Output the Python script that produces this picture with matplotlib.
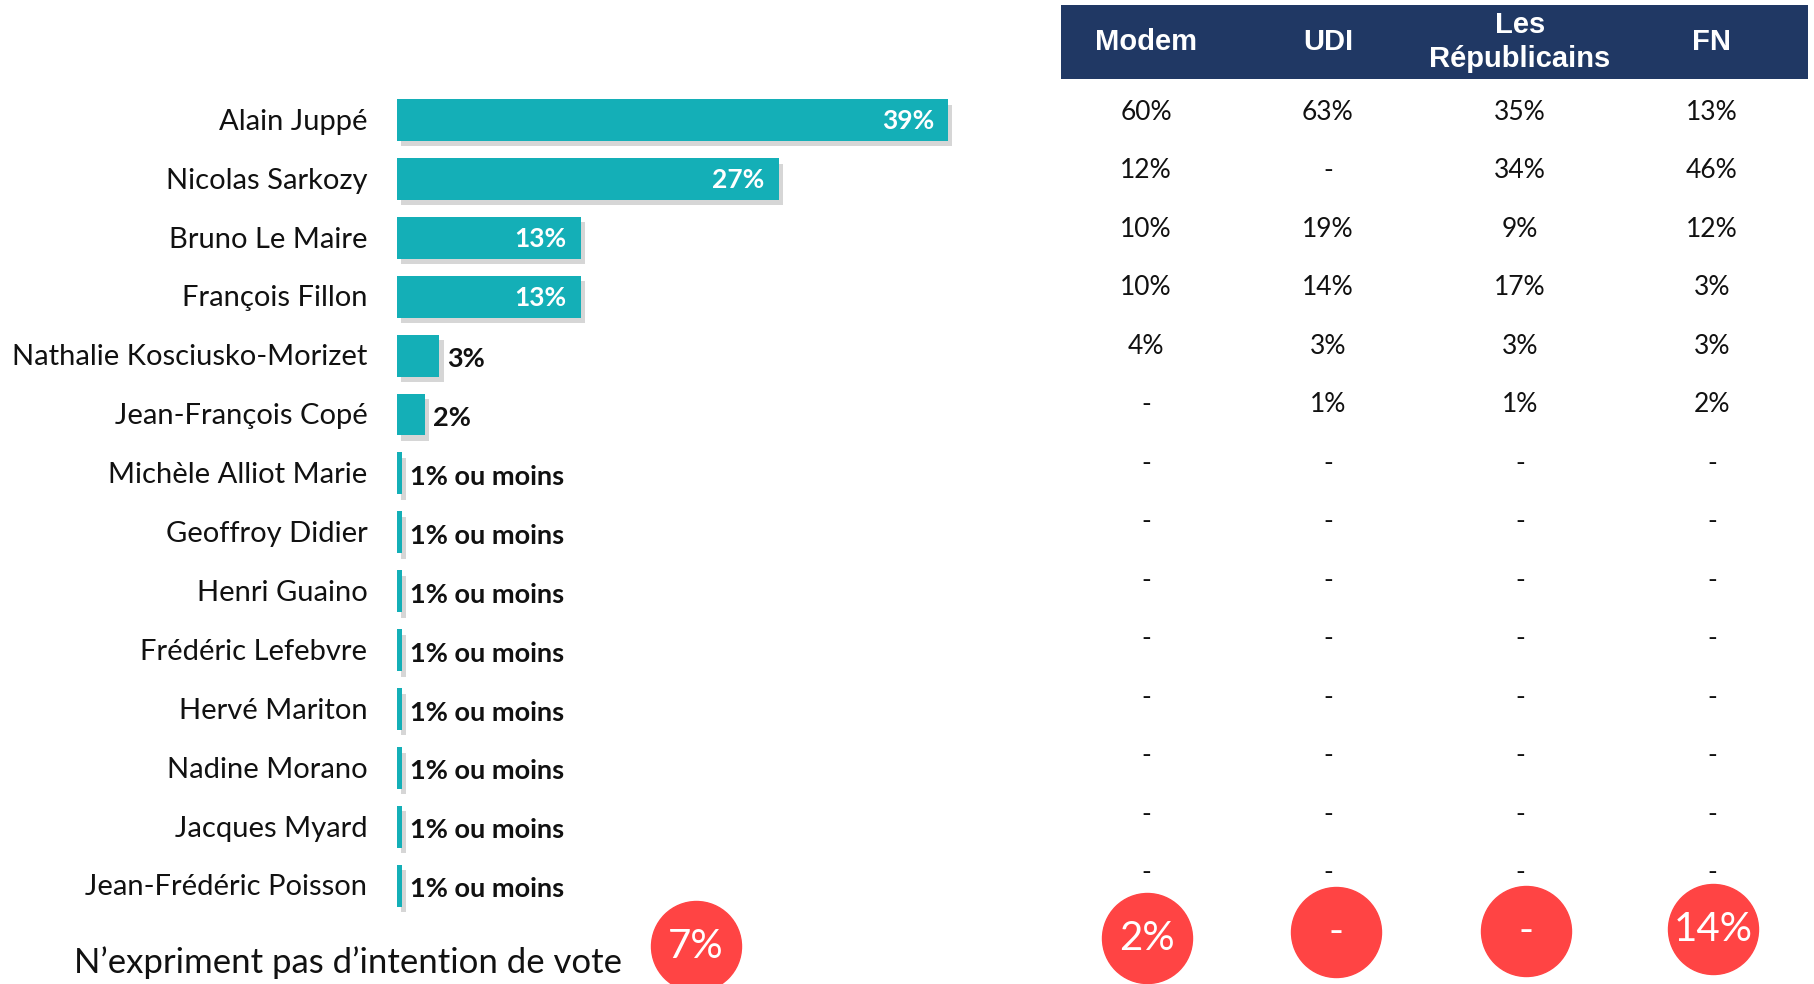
import matplotlib
matplotlib.use("Agg")
import matplotlib.pyplot as plt
import matplotlib.patheffects as pe

plt.rcParams['font.family'] = ['Lato', 'DejaVu Sans']

# candidates and overall vote intention
candidates = ["Alain Juppé", "Nicolas Sarkozy", "Bruno Le Maire", "François Fillon",
              "Nathalie Kosciusko-Morizet", "Jean-François Copé", "Michèle Alliot Marie",
              "Geoffroy Didier", "Henri Guaino", "Frédéric Lefebvre", "Hervé Mariton",
              "Nadine Morano", "Jacques Myard", "Jean-Frédéric Poisson"]
overall = [39, 27, 13, 13, 3, 2, 0.35, 0.35, 0.35, 0.35, 0.35, 0.35, 0.35, 0.35]
overall_labels = ["39%", "27%", "13%", "13%", "3%", "2%"] + ["1% ou moins"] * 8
no_vote = 7

# breakdown by party proximity (None = "-")
parties = ["Modem", "UDI", "Les\nRépublicains", "FN"]
modem = [60, 12, 10, 10, 4] + [None] * 9
udi = [63, None, 19, 14, 3, 1] + [None] * 8
lr = [35, 34, 9, 17, 3, 1] + [None] * 8
fn = [13, 46, 12, 3, 3, 2] + [None] * 8
party_no_vote = [2, None, None, 14]

TEAL = "#14AFB7"
NAVY = "#203864"
RED = "#FF4444"

W, H = 1815, 984
fig = plt.figure(figsize=(W / 100, H / 100), dpi=100)

# ---- left: bar chart ----
row0, step = 120, 58.9
top = row0 - step / 2
bot = row0 + 13 * step + step / 2
bx0, px_per = 397, 14.13
ax = fig.add_axes([bx0 / W, 1 - bot / H, 603 / W, (bot - top) / H])
ax.set_xlim(0, 603 / px_per)
ax.set_ylim(13.5, -0.5)
ax.axis("off")

ypos = list(range(len(candidates)))
bars = ax.barh(ypos, overall, height=0.71, color=TEAL)
for b in bars:
    b.set_path_effects([pe.SimplePatchShadow(offset=(3, -4), shadow_rgbFace="#999999", alpha=0.4),
                        pe.Normal()])

for y, name, v, lab in zip(ypos, candidates, overall, overall_labels):
    ax.text(-2.1, y + 0.03, name, ha="right", va="center", fontsize=21, color="#111111")
    if v >= 10:
        ax.text(v - 1.0, y + 0.02, lab, ha="right", va="center", fontsize=19,
                fontweight="bold", color="white")
    else:
        ax.text(v + 0.55, y + 0.06, lab, ha="left", va="center", fontsize=19.5,
                fontweight="bold", color="#111111")

fig.text(74 / W, 1 - 963 / H, "N\u2019expriment pas d\u2019intention de vote",
         ha="left", va="center", fontsize=25, color="#111111")
ax.scatter([(696 - bx0) / px_per], [(946 - row0) / step], s=4200, color=RED,
           clip_on=False, zorder=3)
ax.text((696 - bx0) / px_per, (946 - row0) / step, f"{no_vote}%", ha="center",
        va="center", fontsize=29, color="white", zorder=4)

# ---- right: table by party (axes in pixel units) ----
tx0, tx1 = 1061, 1808
col_x = [1146, 1328, 1520, 1712]
circ_x = [1147, 1336, 1526, 1713]
circ_y = [938, 932, 931, 929]
trow0, tstep = 112, 58.5
tax = fig.add_axes([tx0 / W, 0, (tx1 - tx0) / W, 1])
tax.set_xlim(tx0, tx1)
tax.set_ylim((H - trow0) / tstep, -trow0 / tstep)
tax.axis("off")

def py(p):
    return (p - trow0) / tstep

tax.add_patch(plt.Rectangle((tx0, py(79)), tx1 - tx0, py(5) - py(79), color=NAVY, lw=0))
for x, p in zip(col_x, parties):
    tax.text(x, py(42), p, ha="center", va="center", fontsize=21,
             fontweight="bold", color="white", family="Liberation Sans",
             linespacing=1.3)

for x, col in zip(col_x, [modem, udi, lr, fn]):
    for r, v in enumerate(col):
        tax.text(x, r, "-" if v is None else f"{v}%", ha="center", va="center",
                 fontsize=19, color="#111111")

tax.scatter(circ_x, [py(c) for c in circ_y], s=4200, color=RED, zorder=3)
for x, c, v in zip(circ_x, circ_y, party_no_vote):
    tax.text(x, py(c), "-" if v is None else f"{v}%", ha="center", va="center",
             fontsize=29, color="white", zorder=4)

fig.savefig("out.png", dpi=100)
